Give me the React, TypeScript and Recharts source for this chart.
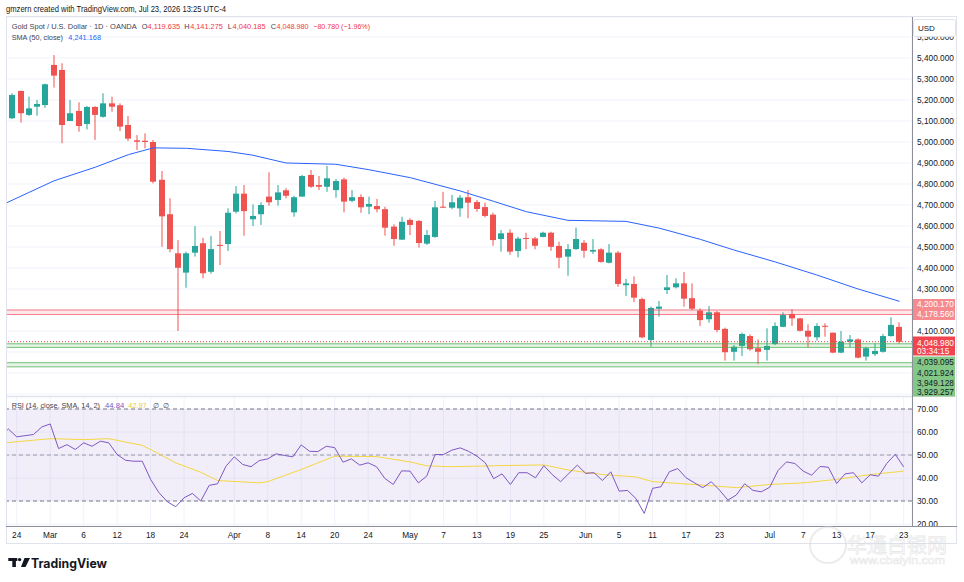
import React from 'react';
import {
  ComposedChart,
  Bar,
  Line,
  XAxis,
  YAxis,
  CartesianGrid,
  ReferenceLine,
  ReferenceArea,
} from 'recharts';

const FONT = '"Liberation Sans", Arial, sans-serif';
const UP = '#26a69a';
const DOWN = '#ef5350';

// trading days (MM-DD, 2026); last entry is an empty slot to the right of the last bar
const dates = [
  '02-20', '02-23', '02-24', '02-25', '02-26', '02-27',
  '03-02', '03-03', '03-04', '03-05', '03-06', '03-09', '03-10', '03-11', '03-12', '03-13',
  '03-16', '03-17', '03-18', '03-19', '03-20', '03-23', '03-24', '03-25', '03-26', '03-27', '03-30', '03-31',
  '04-01', '04-02', '04-06', '04-07', '04-08', '04-09', '04-10', '04-13', '04-14', '04-15', '04-16', '04-17',
  '04-20', '04-21', '04-22', '04-23', '04-24', '04-27', '04-28', '04-29', '04-30',
  '05-01', '05-04', '05-05', '05-06', '05-07', '05-08', '05-11', '05-12', '05-13', '05-14', '05-15',
  '05-18', '05-19', '05-20', '05-21', '05-22', '05-25', '05-26', '05-27', '05-28', '05-29',
  '06-01', '06-02', '06-03', '06-04', '06-05', '06-08', '06-09', '06-10', '06-11', '06-12',
  '06-15', '06-16', '06-17', '06-18', '06-19', '06-22', '06-23', '06-24', '06-25', '06-26', '06-29', '06-30',
  '07-01', '07-02', '07-03', '07-06', '07-07', '07-08', '07-09', '07-10', '07-13', '07-14', '07-15', '07-16', '07-17',
  '07-20', '07-21', '07-22', '07-23', '07-24',
];

const opens = [
  4994, 5113, 5243, 5129, 5168, 5176,
  5367, 5343, 5100, 5148, 5086, 5167, 5120, 5184, 5175, 5081,
  5008, 5006, 5000, 4820, 4656, 4470, 4378, 4473, 4518, 4382, 4510, 4514,
  4668, 4754, 4632, 4656, 4740, 4724, 4770, 4665, 4740, 4843, 4795, 4787,
  4771, 4822, 4720, 4738, 4692, 4695, 4680, 4597, 4535,
  4629, 4624, 4516, 4548, 4692, 4687, 4684, 4737, 4714, 4690, 4654,
  4538, 4568, 4481, 4543, 4541, 4548, 4568, 4505, 4454, 4490,
  4520, 4478, 4489, 4425, 4473, 4318, 4324, 4252, 4057, 4206,
  4295, 4308, 4327, 4256, 4197, 4156, 4189, 4110, 4001, 4029, 4076, 4018,
  4010, 4038, 4120, 4180, 4160, 4101, 4070, 4125, 4092, 3997, 4049, 4060, 3978,
  3990, 4001, 4076, 4119.635,
];
const highs = [
  5110, 5232, 5245, 5216, 5200, 5278,
  5414, 5375, 5200, 5189, 5171, 5170, 5232, 5216, 5184, 5124,
  5033, 5041, 5010, 4862, 4732, 4533, 4478, 4600, 4544, 4552, 4576, 4684,
  4790, 4795, 4703, 4713, 4856, 4795, 4780, 4744, 4843, 4867, 4838, 4886,
  4824, 4830, 4771, 4751, 4740, 4729, 4692, 4608, 4644,
  4637, 4629, 4581, 4719, 4763, 4748, 4748, 4771, 4724, 4711, 4663,
  4581, 4584, 4549, 4568, 4548, 4573, 4573, 4525, 4514, 4592,
  4533, 4538, 4494, 4514, 4481, 4348, 4360, 4259, 4216, 4243,
  4367, 4351, 4381, 4327, 4208, 4219, 4195, 4116, 4033, 4092, 4084, 4060,
  4113, 4141, 4189, 4203, 4163, 4132, 4137, 4137, 4092, 4100, 4081, 4065, 4025,
  4041, 4086, 4165, 4141.275,
];
const lows = [
  4990, 5110, 5092, 5124, 5125, 5163,
  5259, 4994, 5100, 5049, 5060, 5010, 5116, 5144, 5052, 5005,
  4962, 4970, 4803, 4501, 4475, 4100, 4306, 4454, 4351, 4373, 4414, 4481,
  4660, 4554, 4600, 4605, 4697, 4697, 4732, 4644, 4740, 4782, 4771, 4763,
  4735, 4665, 4713, 4663, 4656, 4665, 4554, 4506, 4533,
  4557, 4497, 4510, 4544, 4685, 4680, 4644, 4637, 4668, 4641, 4506,
  4478, 4463, 4451, 4489, 4489, 4546, 4482, 4399, 4363, 4486,
  4449, 4467, 4425, 4422, 4311, 4267, 4237, 4065, 4025, 4168,
  4276, 4303, 4216, 4200, 4124, 4140, 4094, 3959, 3959, 3981, 4006, 3943,
  3959, 4033, 4118, 4124, 4097, 4022, 4054, 4073, 3994, 3994, 4022, 3970, 3959,
  3981, 3997, 4073, 4040.185,
];
const closes = [
  5105, 5224, 5137, 5160, 5181, 5275,
  5316, 5081, 5137, 5076, 5167, 5129, 5184, 5168, 5073, 5016,
  5001, 5000, 4811, 4646, 4490, 4401, 4470, 4505, 4375, 4490, 4505, 4663,
  4754, 4671, 4648, 4700, 4713, 4760, 4744, 4737, 4838, 4787, 4787, 4827,
  4814, 4716, 4737, 4689, 4705, 4680, 4592, 4538, 4620,
  4605, 4519, 4557, 4689, 4687, 4713, 4735, 4711, 4681, 4648, 4533,
  4565, 4478, 4540, 4538, 4506, 4568, 4501, 4449, 4490, 4538,
  4482, 4486, 4429, 4473, 4324, 4327, 4259, 4070, 4210, 4216,
  4308, 4327, 4254, 4206, 4152, 4189, 4105, 3999, 4025, 4086, 4013, 4001,
  4029, 4124, 4176, 4160, 4101, 4073, 4124, 4120, 3997, 4049, 4060, 3973, 4018,
  4005, 4076, 4129, 4048.98,
];

// SMA(50) at sample days
const smaDates = [
  '02-20', '03-02', '03-09', '03-13', '03-18', '03-24', '03-31', '04-06', '04-10', '04-20', '04-24', '05-01',
  '05-11', '05-15', '05-21', '05-28', '06-08', '06-12', '06-19', '06-25', '07-02', '07-09', '07-16', '07-23',
];
const smaValues = [
  4705, 4815, 4880, 4940, 4972, 4970, 4955, 4937, 4900, 4894, 4868, 4830,
  4767, 4718, 4668, 4627, 4622, 4590, 4536, 4486, 4429, 4367, 4300, 4241.168,
];

// RSI(14), one value per trading day
const rsiValues = [
  57.9, 61.3, 57.9, 58.4, 58.9, 62.2, 63.5,
  52.8, 54.5, 52.4, 55.3, 53.8, 56.0, 55.3, 50.2, 47.7,
  47.3, 47.3, 39.4, 33.6, 29.7, 27.5, 31.4, 33.3, 30.0, 36.8, 37.5, 45.1,
  49.2, 45.9, 44.9, 47.6, 48.3, 50.5, 49.8, 49.2, 54.4, 51.6, 51.5, 53.8, 53.2,
  46.9, 48.3, 45.6, 46.6, 44.9, 39.8, 37.2, 43.1, 43.0, 37.9, 40.8, 50.2, 50.2, 52.1, 53.1, 51.6,
  49.5, 46.6, 39.7, 41.8, 37.2, 42.3, 42.3, 40.1, 45.4, 41.5, 38.4, 42.0, 45.6, 42.0, 42.3, 38.9, 42.7,
  34.3, 34.6, 31.1, 24.6, 35.5, 36.2, 42.7, 44.1, 40.1, 37.9, 35.8, 38.4, 34.7, 30.4, 32.6, 37.5, 34.6, 34.0,
  36.0, 43.3, 47.0, 46.3, 43.0, 41.2, 45.0, 44.7, 37.6, 41.8, 42.3, 37.9, 41.4, 40.8, 46.4, 50.3, 44.84,
];

// SMA(14) of RSI, read at sample days
const rsiMaDates = [
  '02-20', '03-02', '03-06', '03-11', '03-17', '03-19', '03-23', '03-26', '03-30', '04-07', '04-08', '04-14',
  '04-20', '04-27', '05-01', '05-05', '05-08', '05-18', '05-25', '05-28', '06-03', '06-09', '06-11', '06-15',
  '06-19', '06-25', '06-29', '07-01', '07-07', '07-13', '07-17', '07-23',
];
const rsiMaValues = [
  55.1, 57.1, 56.7, 57.1, 54.2, 50.5, 46.6, 42.5, 38.9, 37.9, 38.4, 43.7,
  49.5, 49.3, 47.0, 45.3, 44.9, 45.4, 45.7, 43.4, 41.5, 40.5, 38.4, 37.9,
  36.9, 35.8, 36.5, 37.2, 37.9, 39.4, 41.5, 42.97,
];

const tickDates = [
  '02-24', '03-02', '03-06', '03-12', '03-18', '03-24', '04-01', '04-08', '04-14', '04-20', '04-24', '05-01', '05-07',
  '05-13', '05-19', '05-25', '06-01', '06-05', '06-11', '06-17', '06-23', '07-01', '07-07', '07-13', '07-17', '07-23',
];
const tickLabels = [
  '24', 'Mar', '6', '12', '18', '24', 'Apr', '8', '14', '20', '24', 'May', '7',
  '13', '19', '25', 'Jun', '5', '11', '17', '23', 'Jul', '7', '13', '17', '23',
];

const priceTicks = [3800, 3900, 4000, 4100, 4200, 4300, 4400, 4500, 4600, 4700, 4800, 4900, 5000, 5100, 5200, 5300, 5400, 5500];
// tick labels that sit under the price-label boxes on the axis
const coveredTicks = [3800, 3900, 4000, 4200];
const rsiTicks = [20, 30, 40, 50, 60, 70];

const redLevels = [4200.17, 4178.56];
const greenLevelsA = [4039.095, 4021.924];
const greenLevelsB = [3949.128, 3929.257];
const lastPrice = 4048.98;

const fmt3 = (v: number) => v.toLocaleString('en-US', { minimumFractionDigits: 3, maximumFractionDigits: 3 });

const smaMap = new Map(smaDates.map((d, i) => [d, smaValues[i]]));
const rsiMaMap = new Map(rsiMaDates.map((d, i) => [d, rsiMaValues[i]]));
const labelMap = new Map(tickDates.map((d, i) => [d, tickLabels[i]]));

const rows = dates.map((d, i) => {
  const has = opens[i] !== undefined;
  return {
    date: d,
    range: has ? [lows[i], highs[i]] : null,
    open: has ? opens[i] : null,
    high: has ? highs[i] : null,
    low: has ? lows[i] : null,
    close: has ? closes[i] : null,
    sma: smaMap.has(d) ? smaMap.get(d) : null,
    rsi: rsiValues[i] !== undefined ? rsiValues[i] : null,
    rsiMa: rsiMaMap.has(d) ? rsiMaMap.get(d) : null,
  };
});

const Candle = (props: any) => {
  const { x, y, width, height, payload } = props;
  if (!payload || payload.open == null) return null;
  const { open, close, high, low } = payload;
  const top = Math.min(y, y + height);
  const h = Math.abs(height);
  const per = h / (high - low);
  const yOf = (v: number) => top + (high - v) * per;
  const c = Math.round(x + width / 2);
  const color = close >= open ? UP : DOWN;
  const bTop = yOf(Math.max(open, close));
  const bH = Math.max(1, yOf(Math.min(open, close)) - bTop);
  return (
    <g>
      <rect x={c - 0.5} y={top} width={1} height={h} fill={color} />
      <rect x={c - 3} y={bTop} width={6} height={bH} fill={color} />
    </g>
  );
};

const PriceTick = (props: any) => {
  const { x, y, payload } = props;
  if (coveredTicks.includes(payload.value)) return <g />;
  return (
    <text x={x} y={y} dy={3} fontSize={8.3} fill="#131722" fontFamily={FONT} textAnchor="start">
      {fmt3(payload.value)}
    </text>
  );
};

const RsiTick = (props: any) => {
  const { x, y, payload } = props;
  return (
    <text x={x} y={y} dy={3} fontSize={8.3} fill="#131722" fontFamily={FONT} textAnchor="start">
      {payload.value.toFixed(2)}
    </text>
  );
};

const DateTick = (props: any) => {
  const { x, y, payload } = props;
  return (
    <text x={x} y={y + 12} fontSize={8.3} fill="#131722" fontFamily={FONT} textAnchor="middle">
      {labelMap.get(payload.value) ?? ''}
    </text>
  );
};

const gray = '#3f4351';
const red = '#f23645';
const LF = 7.4;

export default function App() {
  const n = opens.length - 1;
  return (
    <div style={{ position: 'absolute', left: 0, top: 0, width: 964, height: 582, background: '#ffffff', overflow: 'hidden' }}>
      <div style={{ position: 'absolute', left: 0, top: 17 }}>
        <ComposedChart width={964} height={379} data={rows} margin={{ top: 0, right: 0, bottom: 0, left: 0 }}>
          <CartesianGrid stroke="#f0f3fa" />
          <XAxis dataKey="date" ticks={tickDates} interval={0} height={0} tick={false} axisLine={false} tickLine={false} />
          <YAxis
            orientation="right"
            width={52}
            domain={[3790.5, 5595.2]}
            allowDataOverflow
            ticks={priceTicks}
            interval={0}
            tick={PriceTick}
            tickSize={0}
            tickMargin={5}
            axisLine={false}
            tickLine={false}
          />
          <ReferenceArea y1={redLevels[1]} y2={redLevels[0]} fill={red} fillOpacity={0.12} stroke="none" />
          <ReferenceArea y1={greenLevelsA[1]} y2={greenLevelsA[0]} fill="#4caf50" fillOpacity={0.15} stroke="none" />
          <ReferenceArea y1={greenLevelsB[1]} y2={greenLevelsB[0]} fill="#4caf50" fillOpacity={0.15} stroke="none" />
          {redLevels.map((v) => (
            <ReferenceLine key={'r' + v} y={v} stroke={red} strokeOpacity={0.6} strokeWidth={1} />
          ))}
          {greenLevelsA.concat(greenLevelsB).map((v) => (
            <ReferenceLine key={'g' + v} y={v} stroke="#4caf50" strokeOpacity={0.75} strokeWidth={1} />
          ))}
          <ReferenceLine y={lastPrice} stroke={red} strokeDasharray="1 2" strokeWidth={1} />
          <Bar dataKey="range" shape={Candle} isAnimationActive={false} barSize={6} />
          <Line dataKey="sma" stroke="#2962ff" strokeWidth={1} dot={false} connectNulls isAnimationActive={false} />
        </ComposedChart>
      </div>

      <div style={{ position: 'absolute', left: 0, top: 397 }}>
        <ComposedChart width={964} height={148} data={rows} margin={{ top: 0, right: 0, bottom: 0, left: 0 }}>
          <CartesianGrid stroke="#f0f3fa" />
          <XAxis
            dataKey="date"
            ticks={tickDates}
            interval={0}
            height={19}
            tick={DateTick}
            tickSize={0}
            tickMargin={0}
            axisLine={false}
            tickLine={false}
          />
          <YAxis
            orientation="right"
            width={52}
            domain={[19.13, 75.22]}
            allowDataOverflow
            ticks={rsiTicks}
            interval={0}
            tick={RsiTick}
            tickSize={0}
            tickMargin={5}
            axisLine={false}
            tickLine={false}
          />
          <ReferenceArea y1={30} y2={70} fill="#7e57c2" fillOpacity={0.1} stroke="none" />
          <ReferenceLine y={70} stroke="#787b86" strokeDasharray="4 3" />
          <ReferenceLine y={50} stroke="#787b86" strokeDasharray="4 3" strokeOpacity={0.7} />
          <ReferenceLine y={30} stroke="#787b86" strokeDasharray="4 3" />
          <Line dataKey="rsiMa" stroke="#f5d742" strokeWidth={1} dot={false} connectNulls isAnimationActive={false} />
          <Line dataKey="rsi" stroke="#7e57c2" strokeWidth={1} dot={false} isAnimationActive={false} />
        </ComposedChart>
      </div>

      <svg width={964} height={582} style={{ position: 'absolute', left: 0, top: 0, pointerEvents: 'none' }} fontFamily={FONT}>
        {/* left strip outside the frame */}
        <rect x={0} y={0} width={6} height={582} fill="#ffffff" />
        <rect x={0} y={0} width={964} height={17} fill="#ffffff" />
        {/* frame & separators */}
        <rect x={6.5} y={16.5} width={950} height={527} fill="none" stroke="#e0e3eb" />
        <line x1={6} x2={957} y1={396.5} y2={396.5} stroke="#e0e3eb" />
        <line x1={6} x2={957} y1={526.5} y2={526.5} stroke="#8c8f99" />
        <line x1={912.5} x2={912.5} y1={17} y2={526} stroke="#8c8f99" />

        {/* header */}
        <text x={6} y={12} fontSize={8.4} fill="#131722" fontWeight={500} textLength={220} lengthAdjust="spacingAndGlyphs">
          gmzern created with TradingView.com, Jul 23, 2026 13:25 UTC-4
        </text>

        {/* main legend */}
        <text x={11.7} y={28.6} fontSize={LF} fill={gray} textLength={125} lengthAdjust="spacingAndGlyphs">
          Gold Spot / U.S. Dollar · 1D · OANDA
        </text>
        <text x={141.7} y={28.6} fontSize={LF} fill={gray}>O</text>
        <text x={147.6} y={28.6} fontSize={LF} fill={red} textLength={32.6} lengthAdjust="spacingAndGlyphs">
          {fmt3(opens[n])}
        </text>
        <text x={184.3} y={28.6} fontSize={LF} fill={gray}>H</text>
        <text x={190.2} y={28.6} fontSize={LF} fill={red} textLength={32.6} lengthAdjust="spacingAndGlyphs">
          {fmt3(highs[n])}
        </text>
        <text x={227.7} y={28.6} fontSize={LF} fill={gray}>L</text>
        <text x={232.6} y={28.6} fontSize={LF} fill={red} textLength={33} lengthAdjust="spacingAndGlyphs">
          {fmt3(lows[n])}
        </text>
        <text x={270.7} y={28.6} fontSize={LF} fill={gray}>C</text>
        <text x={276.6} y={28.6} fontSize={LF} fill={red} textLength={32} lengthAdjust="spacingAndGlyphs">
          {fmt3(closes[n])}
        </text>
        <text x={313.3} y={28.6} fontSize={LF} fill={red} textLength={56.7} lengthAdjust="spacingAndGlyphs">
          −80.780 (−1.96%)
        </text>
        <text x={11.7} y={40.1} fontSize={LF} fill={gray} textLength={51.3} lengthAdjust="spacingAndGlyphs">
          SMA (50, close)
        </text>
        <text x={68.3} y={40.1} fontSize={LF} fill="#2962ff" textLength={32.7} lengthAdjust="spacingAndGlyphs">
          {fmt3(smaValues[smaValues.length - 1])}
        </text>

        {/* RSI legend */}
        <text x={11.7} y={407.8} fontSize={LF} fill={gray} textLength={88.3} lengthAdjust="spacingAndGlyphs">
          RSI (14, close, SMA, 14, 2)
        </text>
        <text x={105} y={407.8} fontSize={LF} fill="#7e57c2" textLength={19.3} lengthAdjust="spacingAndGlyphs">
          {rsiValues[rsiValues.length - 1].toFixed(2)}
        </text>
        <text x={128.3} y={407.8} fontSize={LF} fill="#e8c93a" textLength={18.4} lengthAdjust="spacingAndGlyphs">
          {rsiMaValues[rsiMaValues.length - 1].toFixed(2)}
        </text>
        <text x={153} y={407.8} fontSize={LF} fill={gray}>∅</text>
        <text x={162.5} y={407.8} fontSize={LF} fill={gray}>∅</text>

        {/* USD box */}
        <rect x={913.5} y={19.5} width={42} height={17} rx={2} fill="#ffffff" stroke="#e0e3eb" />
        <text x={918} y={31} fontSize={8} fill="#131722">USD</text>

        {/* price labels on axis */}
        <rect x={913} y={299} width={42} height={21} fill="#f68a8f" />
        <text x={917} y={307.3} fontSize={8.3} fill="#ffffff">{fmt3(redLevels[0])}</text>
        <text x={917} y={317.3} fontSize={8.3} fill="#ffffff">{fmt3(redLevels[1])}</text>
        <rect x={913} y={336.5} width={42} height={19} fill="#f0454f" />
        <text x={917} y={345.7} fontSize={8.3} fill="#ffffff">{fmt3(lastPrice)}</text>
        <text x={917} y={354} fontSize={8.3} fill="#ffffff">03:34:15</text>
        <rect x={913} y={356.5} width={42} height={40} fill="#84c887" />
        <text x={917} y={365.4} fontSize={8.3} fill="#131722">{fmt3(greenLevelsA[0])}</text>
        <text x={917} y={376} fontSize={8.3} fill="#131722">{fmt3(greenLevelsA[1])}</text>
        <text x={917} y={386.3} fontSize={8.3} fill="#131722">{fmt3(greenLevelsB[0])}</text>
        <text x={917} y={395.3} fontSize={8.3} fill="#131722">{fmt3(greenLevelsB[1])}</text>

        {/* TradingView logo */}
        <g fill="#131722">
          <rect x={8.3} y={558} width={9} height={3} />
          <rect x={12.3} y={558} width={3.6} height={9} />
          <circle cx={19.6} cy={559.6} r={1.7} />
          <polygon points="24.5,558 30,558 25.5,567 21,567" />
        </g>
        <text x={31} y={567.5} fontSize={12.5} fontWeight={700} fill="#131722" fontFamily='Inter, "Noto Sans", sans-serif' textLength={76} lengthAdjust="spacingAndGlyphs">
          TradingView
        </text>

        {/* watermark */}
        <g opacity={0.45}>
          <circle cx={828} cy={545} r={18} fill="none" stroke="#d6d6d6" strokeWidth={2} />
          <text x={847} y={553} fontSize={20} fill="#ffffff" stroke="#cfcfcf" strokeWidth={0.8} fontFamily='"Noto Sans CJK SC", sans-serif' textLength={100} lengthAdjust="spacingAndGlyphs">
            华通白银网
          </text>
          <text x={850} y={564} fontSize={10.5} fill="#ffffff" stroke="#cfcfcf" strokeWidth={0.6} textLength={95} lengthAdjust="spacingAndGlyphs">
            www.cbaiyin.com
          </text>
        </g>
      </svg>
    </div>
  );
}
